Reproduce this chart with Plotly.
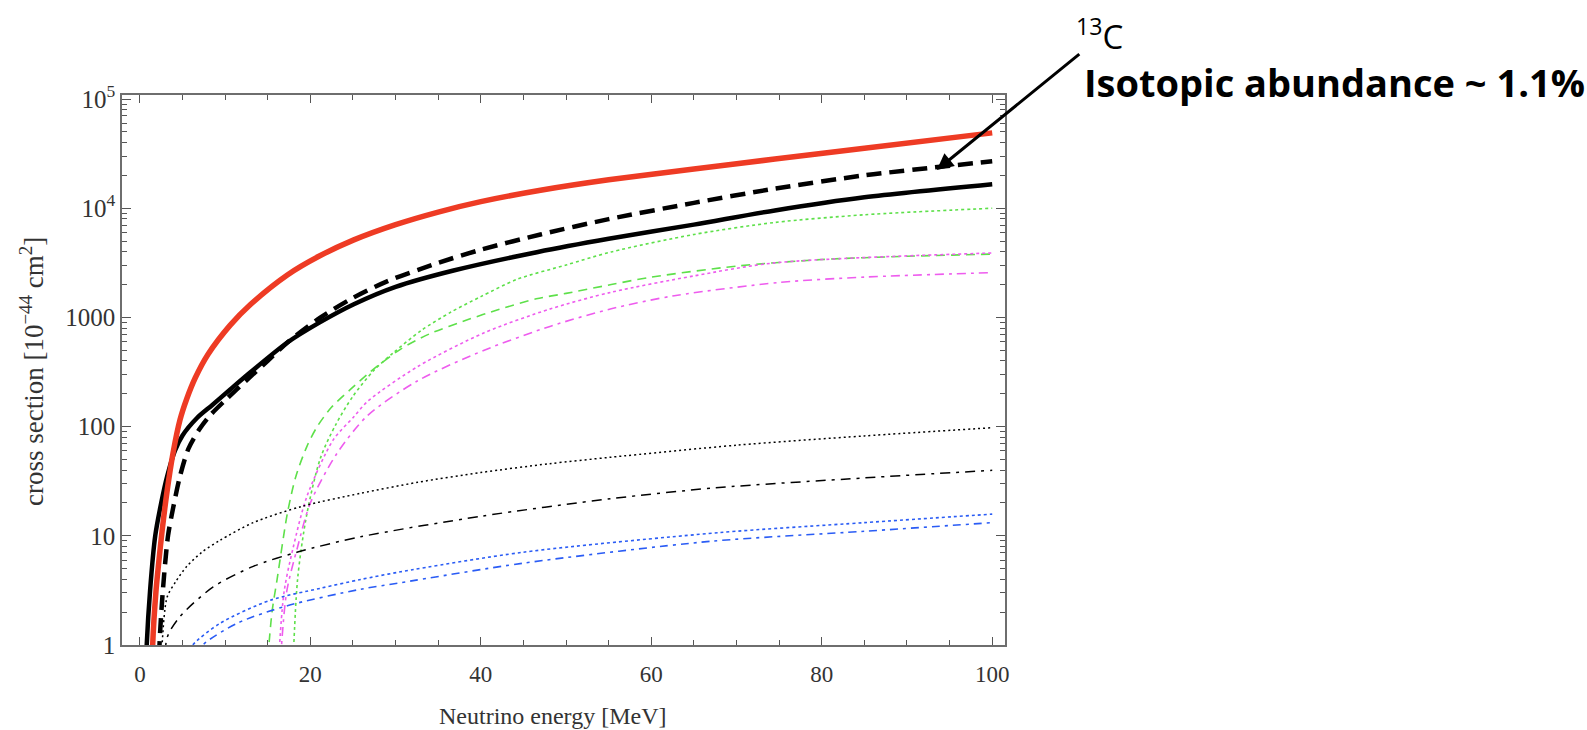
import math
import plotly.graph_objects as go

# Neutrino cross sections on carbon, energy in MeV, sigma in 1e-44 cm^2
red_E = [1.4, 1.5, 1.9, 2.2, 2.6, 3.2, 3.9, 4.7, 5.5, 6.5, 8.0, 10.6, 13.0, 17.3, 21.0, 25.1, 30.0,
         35.0, 40.0, 47.0, 55.0, 65.0, 74.5, 85.0, 100.0]
red_S = [0.3, 1, 3.2, 5.6, 11, 26, 58, 115, 180, 280, 460, 850, 1320, 2450, 3630, 5130, 7080,
         9230, 11500, 14600, 18200, 22900, 28200, 35500, 49000]

blk_E = [0.6, 0.8, 1.2, 1.8, 2.5, 3.2, 4.1, 5.0, 6.7, 8.5, 10.6, 13.0, 17.3, 21.0, 25.1, 30.0, 36.8,
         46.7, 55.0, 65.0, 74.5, 85.0, 100.0]
blk_S = [0.3, 1, 3.2, 10, 20, 35, 60, 83, 120, 158, 219, 316, 589, 891, 1320, 1905, 2690,
         3980, 5250, 7080, 9550, 12600, 16600]

c13_E = [2.2, 2.3, 2.7, 3.3, 3.9, 4.7, 5.7, 7.0, 8.2, 10.0, 12.6, 15.0, 17.3, 21.2, 25.0, 29.0, 35.0,
         40.0, 47.0, 55.0, 65.0, 74.5, 85.0, 100.0]
c13_S = [0.3, 1, 3.2, 10, 18, 35, 63, 95, 126, 174, 270, 400, 590, 1000, 1510, 2140, 3160,
         4170, 5750, 7940, 11200, 15100, 20000, 26900]

grn_dot_E = [17.8, 18.5, 19.6, 21.2, 23.0, 25.0, 27.5, 29.8, 33.0, 36.5, 40.0, 44.3, 50.0, 55.3,
             65.0, 74.5, 85.0, 100.0]
grn_dot_S = [0.3, 4, 16, 52, 105, 190, 331, 479, 759, 1120, 1550, 2240, 3020, 3980,
             5750, 7410, 8710, 10000]

grn_dash_E = [14.6, 15.5, 16.1, 17.3, 18.3, 19.6, 20.8, 22.5, 24.7, 27.0, 30.6, 34.0, 38.5, 42.0,
              46.5, 50.0, 55.3, 60.0, 70.0, 80.0, 90.0, 100.0]
grn_dash_S = [0.3, 2, 4, 16, 35, 66, 100, 151, 219, 316, 513, 708, 955, 1175,
              1480, 1660, 2000, 2340, 2950, 3390, 3630, 3800]

mag_dot_E = [16.0, 16.9, 18.0, 19.6, 22.7, 25.1, 26.7, 32.6, 40.4, 48.2, 55.3, 65.0, 74.5, 100.0]
mag_dot_S = [0.3, 3, 7.9, 23, 76, 123, 170, 355, 724, 1200, 1700, 2400, 3160, 3890]

mag_dd_E = [16.2, 17.2, 18.5, 20.0, 23.0, 26.7, 32.6, 40.4, 48.2, 55.3, 62.7, 75.0, 85.0, 100.0]
mag_dd_S = [0.3, 3, 7.9, 20, 55, 126, 263, 501, 832, 1200, 1580, 2090, 2340, 2570]

thin_dot_E = [2.4, 2.6, 3.2, 4.2, 5.5, 7.3, 9.4, 13.3, 19.0, 25.9, 32.6, 40.0, 48.0, 55.3, 70.0,
              85.0, 100.0]
thin_dot_S = [0.3, 1, 2.75, 3.8, 5.25, 7.1, 9.1, 13.2, 18.6, 24.5, 30.9, 38, 45.7, 52.5, 67.6,
              82.2, 97.7]

thin_dd_E = [2.9, 3.2, 4.7, 8.6, 13.3, 18.5, 25.9, 40.0, 55.3, 67.5, 85.0, 100.0]
thin_dd_S = [0.5, 1.17, 1.82, 3.4, 5.25, 7.1, 9.8, 15.1, 21.9, 27.5, 33.9, 39.8]

blu_dot_E = [5.6, 6.2, 9.4, 15.3, 21.2, 25.9, 30.6, 45.0, 68.0, 85.0, 100.0]
blu_dot_S = [0.8, 1, 1.58, 2.57, 3.31, 3.98, 4.68, 7.08, 10.7, 13.2, 15.8]

blu_dd_E = [6.8, 7.4, 11.4, 17.3, 25.9, 30.6, 45.0, 67.0, 85.0, 100.0]
blu_dd_S = [0.8, 1, 1.58, 2.29, 3.24, 3.72, 5.62, 8.91, 11.0, 13.2]

y_tickvals = [1, 10, 100, 1000, 10000, 100000]
y_ticktext = ["1", "10", "100", "1000", "10<sup>4</sup>", "10<sup>5</sup>"]

RED = "#ee3b24"
GREEN = "#5ee04a"
MAGENTA = "#ee5cee"
BLUE = "#2a5cf5"
BLACK = "#000000"

series = [
    (grn_dot_E, grn_dot_S, GREEN, 1.6, "3px,3px"),
    (grn_dash_E, grn_dash_S, GREEN, 1.6, "9px,6px"),
    (mag_dot_E, mag_dot_S, MAGENTA, 1.6, "3px,3px"),
    (mag_dd_E, mag_dd_S, MAGENTA, 1.6, "9px,5px,3px,5px"),
    (thin_dot_E, thin_dot_S, BLACK, 1.5, "2px,3px"),
    (thin_dd_E, thin_dd_S, BLACK, 1.5, "10px,6px,3px,6px"),
    (blu_dot_E, blu_dot_S, BLUE, 1.6, "3px,3px"),
    (blu_dd_E, blu_dd_S, BLUE, 1.6, "8px,5px,3px,5px"),
    (c13_E, c13_S, BLACK, 4.5, "15px,8px"),
    (blk_E, blk_S, BLACK, 4.5, "solid"),
    (red_E, red_S, RED, 5.5, "solid"),
]

fig = go.Figure()
for xs, ys, col, w, dash in series:
    fig.add_trace(go.Scatter(x=xs, y=ys, mode="lines",
                             line=dict(color=col, width=w, dash=dash, shape="spline", smoothing=0.8),
                             showlegend=False, hoverinfo="skip"))

W, H = 1587, 730
L, R, T, B = 122, 1005, 95, 645

serif = "Liberation Serif"
axis_common = dict(showline=True, linecolor="#6e6e6e", linewidth=1.5, mirror="allticks",
                   ticks="inside", tickcolor="#555555", showgrid=False, zeroline=False)

fig.update_xaxes(range=[-2.1, 101.5], dtick=20, tick0=0, ticklen=8, ticklabelstandoff=8,
                 tickfont=dict(family=serif, size=23, color="#333333"),
                 minor=dict(dtick=5, ticks="inside", ticklen=5, tickcolor="#555555"),
                 **axis_common)
fig.update_yaxes(type="log", range=[0, 5.037], tickvals=y_tickvals, ticktext=y_ticktext, ticklen=9,
                 tickfont=dict(family=serif, size=25, color="#333333"),
                 minor=dict(dtick="D1", ticks="inside", ticklen=5, tickcolor="#555555"),
                 **axis_common)


def px_to_paper(px, py):
    return (px - L) / (R - L), (B - py) / (B - T)


x13, y13 = px_to_paper(1074, 34)
xiso, yiso = px_to_paper(1082, 82)
xxt, yxt = px_to_paper(552, 716)
xyt, yyt = px_to_paper(32, 372)

fig.update_layout(
    width=W, height=H, autosize=False,
    margin=dict(l=L, r=W - R, t=T, b=H - B, pad=0),
    paper_bgcolor="white", plot_bgcolor="white",
    annotations=[
        dict(x=xxt, y=yxt, xref="paper", yref="paper", text="Neutrino energy [MeV]",
             showarrow=False, xanchor="center", yanchor="middle",
             font=dict(family=serif, size=24, color="#333333")),
        dict(x=xyt, y=yyt, xref="paper", yref="paper", textangle=-90,
             text="cross section [10<sup>\u221244</sup> cm<sup>2</sup>]",
             showarrow=False, xanchor="center", yanchor="middle",
             font=dict(family=serif, size=27, color="#333333")),
        dict(x=93.5, y=math.log10(22400), xref="x", yref="y", text="", showarrow=True,
             ax=144, ay=-117, axref="pixel", ayref="pixel",
             arrowhead=2, arrowsize=1.1, arrowwidth=3, arrowcolor="black"),
        dict(x=x13, y=y13, xref="paper", yref="paper", text="<sup>13</sup>C", showarrow=False,
             xanchor="left", yanchor="middle",
             font=dict(family="Open Sans", size=33, color="black")),
        dict(x=xiso, y=yiso, xref="paper", yref="paper", text="<b>Isotopic abundance ~ 1.1%</b>",
             showarrow=False, xanchor="left", yanchor="middle",
             font=dict(family="Open Sans", size=38, color="black")),
    ],
)

fig.write_html("out.html")
